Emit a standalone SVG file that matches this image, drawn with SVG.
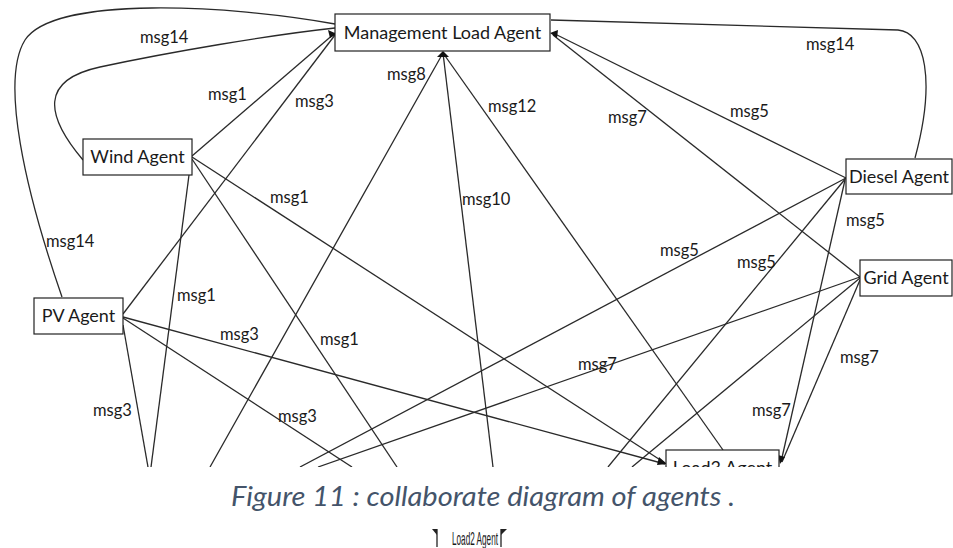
<svg xmlns="http://www.w3.org/2000/svg" width="953" height="548" viewBox="0 0 953 548">
  <style>
    .box { fill: #fff; stroke: #222; stroke-width: 1.2; }
    .name { font-family: Lato, "Liberation Sans", sans-serif; font-size: 18px; fill: #1a1a1a; }
    .msg { font-family: Lato, "Liberation Sans", sans-serif; font-size: 16.5px; fill: #1a1a1a; }
    .edge { fill: none; stroke: #2a2a2a; stroke-width: 1.3; }
    .head { fill: #111; }
    .caption { font-family: Lato, "Liberation Sans", sans-serif; font-style: italic; font-weight: 400; font-size: 27px; fill: #44546a; }
    .foot { font-family: "Liberation Sans", sans-serif; font-size: 19px; fill: #1a1a1a; }
  </style>
  <defs>
    <clipPath id="canvas">
      <rect x="0" y="0" width="953" height="467"/>
    </clipPath>
  </defs>

  <g clip-path="url(#canvas)">
    <!-- message links between the agents -->
    <g id="connectors">
      <!-- msg14 loops -->
      <path class="edge" d="M62 297 C25 190, 0 80, 25 40 C55 -5, 230 5, 335 24"/>
      <path class="edge" d="M83 160 C45 115, 40 80, 100 67 C170 52, 270 35, 335 28"/>
      <path class="edge" d="M551 20 L898 30 C925 32, 936 80, 915 158"/>
      <!-- into Management Load Agent -->
      <line class="edge" x1="192" y1="156" x2="335" y2="33"/>
      <line class="edge" x1="123" y1="314" x2="335" y2="35"/>
      <line class="edge" x1="443" y1="53" x2="210" y2="467"/>
      <line class="edge" x1="443" y1="53" x2="493" y2="467"/>
      <line class="edge" x1="443" y1="53" x2="723" y2="450"/>
      <line class="edge" x1="553" y1="33" x2="846" y2="178"/>
      <line class="edge" x1="553" y1="35" x2="860" y2="277"/>
      <!-- Wind Agent -->
      <line class="edge" x1="192" y1="157" x2="665" y2="463"/>
      <line class="edge" x1="192" y1="159" x2="397" y2="467"/>
      <line class="edge" x1="189" y1="175" x2="151" y2="467"/>
      <!-- PV Agent -->
      <line class="edge" x1="123" y1="317" x2="665" y2="464"/>
      <line class="edge" x1="123" y1="318" x2="352" y2="467"/>
      <line class="edge" x1="123" y1="325" x2="148" y2="467"/>
      <!-- Diesel Agent -->
      <line class="edge" x1="846" y1="178" x2="300" y2="467"/>
      <line class="edge" x1="846" y1="178" x2="608" y2="467"/>
      <line class="edge" x1="845" y1="180" x2="781" y2="462"/>
      <!-- Grid Agent -->
      <line class="edge" x1="860" y1="277" x2="318" y2="467"/>
      <line class="edge" x1="860" y1="278" x2="632" y2="467"/>
      <line class="edge" x1="860" y1="280" x2="782" y2="462"/>
      <!-- arrow tips -->
      <polygon class="head" points="337,34 328,30 330,38"/>
      <polygon class="head" points="443,51 437,57 449,57"/>
      <polygon class="head" points="550,33 558,30 557,38"/>
      <polygon class="head" points="667,464 659,457 657,465"/>
      <polygon class="head" points="780,464 778,455 785,457"/>
    </g>

    <g id="management-load-agent">
      <rect class="box" x="335" y="14" width="215" height="37"/>
      <text class="name" x="442.5" y="39" text-anchor="middle">Management Load Agent</text>
    </g>
    <g id="wind-agent">
      <rect class="box" x="83" y="139" width="109" height="36"/>
      <text class="name" x="137.5" y="163" text-anchor="middle">Wind Agent</text>
    </g>
    <g id="pv-agent">
      <rect class="box" x="34" y="298" width="89" height="36"/>
      <text class="name" x="78.5" y="322" text-anchor="middle">PV Agent</text>
    </g>
    <g id="diesel-agent">
      <rect class="box" x="846" y="159" width="106" height="35"/>
      <text class="name" x="899" y="183" text-anchor="middle">Diesel Agent</text>
    </g>
    <g id="grid-agent">
      <rect class="box" x="860" y="260" width="92" height="36"/>
      <text class="name" x="906" y="284" text-anchor="middle">Grid Agent</text>
    </g>
    <g id="load3-agent">
      <rect class="box" x="666" y="450" width="113" height="36"/>
      <text class="name" x="722.5" y="474" text-anchor="middle">Load3 Agent</text>
    </g>

    <!-- message labels -->
    <g id="labels">
      <text class="msg" x="140" y="43">msg14</text>
      <text class="msg" x="208" y="100">msg1</text>
      <text class="msg" x="295" y="107">msg3</text>
      <text class="msg" x="387" y="80">msg8</text>
      <text class="msg" x="488" y="112">msg12</text>
      <text class="msg" x="608" y="123">msg7</text>
      <text class="msg" x="730" y="117">msg5</text>
      <text class="msg" x="806" y="50">msg14</text>
      <text class="msg" x="270" y="203">msg1</text>
      <text class="msg" x="462" y="205">msg10</text>
      <text class="msg" x="46" y="247">msg14</text>
      <text class="msg" x="177" y="301">msg1</text>
      <text class="msg" x="220" y="340">msg3</text>
      <text class="msg" x="320" y="345">msg1</text>
      <text class="msg" x="660" y="256">msg5</text>
      <text class="msg" x="737" y="268">msg5</text>
      <text class="msg" x="846" y="226">msg5</text>
      <text class="msg" x="578" y="370">msg7</text>
      <text class="msg" x="840" y="363">msg7</text>
      <text class="msg" x="93" y="416">msg3</text>
      <text class="msg" x="278" y="422">msg3</text>
      <text class="msg" x="752" y="416">msg7</text>
    </g>
  </g>

  <text class="caption" x="231" y="506" textLength="504" lengthAdjust="spacingAndGlyphs">Figure 11 : collaborate diagram of agents .</text>

  <!-- anchor marks around the lower label -->
  <g id="load2-agent">
    <path d="M437 529 V547" stroke="#222" stroke-width="1.3"/>
    <polygon points="432,529 437,529 437,535" fill="#222"/>
    <text class="foot" x="452" y="545" textLength="46" lengthAdjust="spacingAndGlyphs">Load2 Agent</text>
    <path d="M501 529 V547" stroke="#222" stroke-width="1.3"/>
    <polygon points="501,529 507,529 501,535" fill="#222"/>
  </g>
</svg>
